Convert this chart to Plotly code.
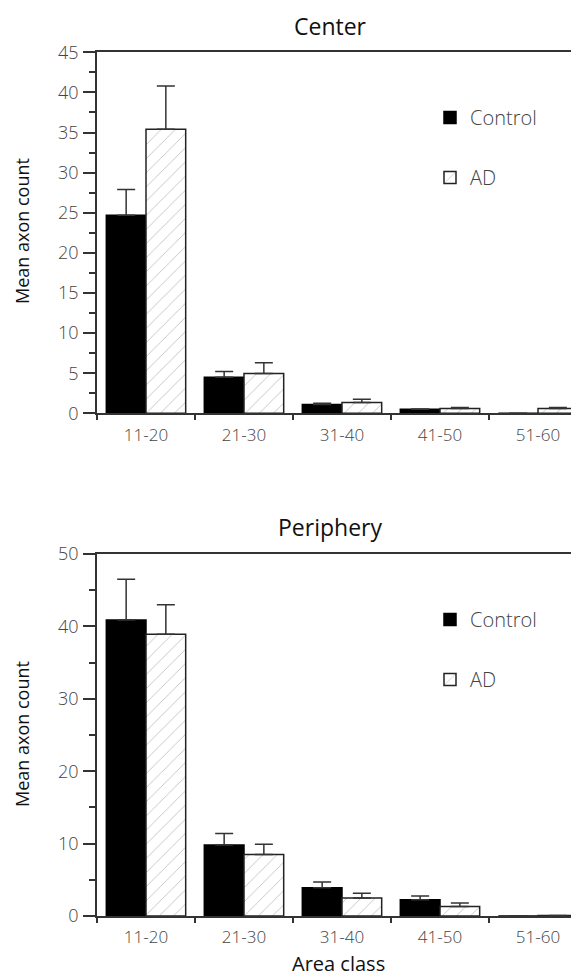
import plotly.graph_objects as go

categories = ["11-20", "21-30", "31-40", "41-50", "51-60"]

center_control = [24.7, 4.5, 1.1, 0.5, 0.0]
center_control_err = [3.2, 0.7, 0.15, 0.05, 0.0]
center_ad = [35.4, 4.95, 1.35, 0.6, 0.6]
center_ad_err = [5.4, 1.35, 0.4, 0.12, 0.12]

periph_control = [40.9, 9.8, 3.9, 2.25, 0.0]
periph_control_err = [5.6, 1.6, 0.8, 0.5, 0.0]
periph_ad = [38.9, 8.5, 2.5, 1.3, 0.08]
periph_ad_err = [4.1, 1.4, 0.65, 0.5, 0.0]

W, H = 579, 979
OFF = 8  # page body margin
FONT = "Open Sans"
AX = "#333333"
TXT = "#444444"


def px(xp):
    return (xp - OFF) / W


def py(yp):
    return 1 - (yp - OFF) / H


fig = go.Figure()


def add_pair(ctrl, ctrl_err, ad, ad_err, xa, ya, legend, grp):
    fig.add_trace(go.Bar(
        x=categories, y=ctrl, name="Control", xaxis=xa, yaxis=ya,
        marker=dict(color="black", line=dict(color="black", width=1.5)),
        error_y=dict(type="data", symmetric=False, array=ctrl_err,
                     arrayminus=[0] * len(ctrl_err), color=AX,
                     thickness=1.5, width=9),
        legend=legend, legendgroup="c" + grp, showlegend=True,
    ))
    fig.add_trace(go.Bar(
        x=categories, y=ad, name="AD", xaxis=xa, yaxis=ya,
        marker=dict(color="white", line=dict(color="#222222", width=1.5),
                    pattern=dict(shape="/", fgcolor="#777777", bgcolor="white",
                                 size=10, solidity=0.08)),
        error_y=dict(type="data", symmetric=False, array=ad_err,
                     arrayminus=[0] * len(ad_err), color=AX,
                     thickness=1.5, width=9),
        legend=legend, legendgroup="a" + grp, showlegend=True,
    ))


add_pair(center_control, center_control_err, center_ad, center_ad_err,
         "x", "y", "legend", "1")
add_pair(periph_control, periph_control_err, periph_ad, periph_ad_err,
         "x2", "y2", "legend2", "2")

xdom = [px(97), 1.0]
top_dom = [py(413.3), py(52.3)]
bot_dom = [py(916), py(554)]

xcommon = dict(
    domain=xdom, range=[-0.5, 4.5], showline=True, linecolor=AX, linewidth=1.8,
    mirror=True, ticks="outside", tickson="boundaries", ticklen=5,
    tickwidth=1.8, tickcolor=AX, showgrid=False, zeroline=False,
    tickfont=dict(family=FONT, size=17, color=TXT, weight=300),
    ticklabelstandoff=5, fixedrange=True, automargin=False,
)
ycommon = dict(
    showline=True, linecolor=AX, linewidth=1.8, ticks="outside", ticklen=12,
    tickwidth=1.8, tickcolor=AX, showgrid=False, zeroline=False,
    tickfont=dict(family=FONT, size=18, color=TXT, weight=300),
    ticklabelstandoff=1, automargin=False,
)

title_font = dict(family=FONT, size=23, color="#111111")
ytitle_font = dict(family=FONT, size=18, color="#111111")

fig.update_layout(
    width=W, height=H,
    margin=dict(l=0, r=0, t=0, b=0, autoexpand=False),
    paper_bgcolor="white", plot_bgcolor="white",
    barmode="group", bargap=0.19, bargroupgap=0,
    showlegend=True,
    xaxis=dict(**xcommon, anchor="y"),
    yaxis=dict(**ycommon, domain=top_dom, range=[0, 45], dtick=5, anchor="x",
               minor=dict(dtick=2.5, ticks="outside", ticklen=6, tickwidth=1.8,
                          tickcolor=AX, showgrid=False)),
    xaxis2=dict(**xcommon, anchor="y2"),
    yaxis2=dict(**ycommon, domain=bot_dom, range=[0, 50], dtick=10, anchor="x2",
                minor=dict(dtick=5, ticks="outside", ticklen=6, tickwidth=1.8,
                           tickcolor=AX, showgrid=False)),
    legend=dict(x=px(430), y=py(98), xanchor="left", yanchor="top",
                bgcolor="rgba(0,0,0,0)", borderwidth=0, tracegroupgap=31,
                font=dict(family=FONT, size=20, color=TXT, weight=300)),
    legend2=dict(x=px(430), y=py(600), xanchor="left", yanchor="top",
                 bgcolor="rgba(0,0,0,0)", borderwidth=0, tracegroupgap=31,
                 font=dict(family=FONT, size=20, color=TXT, weight=300)),
    annotations=[
        dict(text="Center", x=px(330), y=py(26), xref="paper", yref="paper",
             showarrow=False, xanchor="center", yanchor="middle", font=title_font),
        dict(text="Periphery", x=px(330), y=py(527), xref="paper", yref="paper",
             showarrow=False, xanchor="center", yanchor="middle", font=title_font),
        dict(text="Mean axon count", x=px(22), y=py(231), xref="paper", yref="paper",
             showarrow=False, xanchor="center", yanchor="middle", textangle=-90,
             font=ytitle_font),
        dict(text="Mean axon count", x=px(22), y=py(734), xref="paper", yref="paper",
             showarrow=False, xanchor="center", yanchor="middle", textangle=-90,
             font=ytitle_font),
        dict(text="Area class", x=px(338), y=py(963), xref="paper", yref="paper",
             showarrow=False, xanchor="center", yanchor="middle",
             font=dict(family=FONT, size=20, color="#111111")),
    ],
)

fig.write_html("out.html")
